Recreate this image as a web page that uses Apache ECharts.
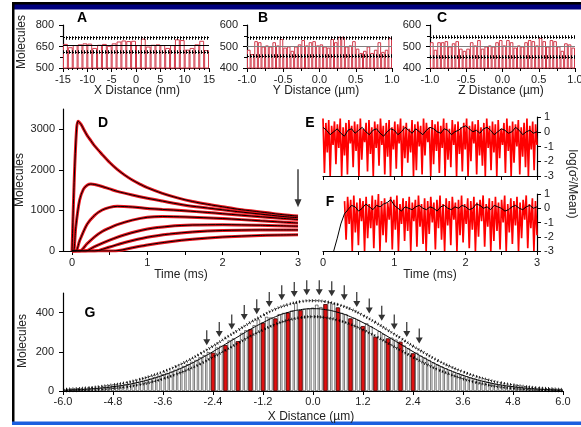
<!DOCTYPE html>
<html><head><meta charset="utf-8">
<script src="https://cdn.jsdelivr.net/npm/echarts@6/dist/echarts.min.js"></script>
<style>html,body{margin:0;padding:0;background:#fff}#c{width:581px;height:427px}</style>
</head><body><div id="c"></div>
<script>
// ---------------- DATA ----------------
// Panel A (X distance, nm) : 30 bins
const aBars = [668,645,660,665,672,670,640,662,668,655,672,685,692,688,690,660,705,650,662,665,660,640,660,700,695,628,640,665,690,625];
const aMean = 660, aUpper = 712, aLower = 610;
// Panel B (Y distance, µm) : 40 bins
const bBars = [485,465,525,520,500,505,500,520,505,535,495,500,480,500,510,530,505,520,525,505,510,500,495,535,520,545,545,500,505,525,490,470,480,500,470,485,520,475,485,540];
const bMean = 500, bUpper = 542, bLower = 455;
// Panel C (Z distance, µm) : 40 bins
const cBars = [520,485,520,520,525,500,515,525,490,480,490,520,505,530,490,500,505,500,520,530,505,530,520,495,505,500,520,530,525,505,540,525,500,530,525,500,480,515,510,495];
const cMean = 500, cUpper = 545, cLower = 452;

// Panel D : seven time courses (time ms, molecules)
const dTime1 = [0,0.03,0.06,0.08,0.12,0.16,0.2,0.25,0.3,0.4,0.5,0.6,0.7,0.8,0.9,1.0,1.2,1.4,1.6,1.8,2.0,2.2,2.4,2.6,2.8,3.0];
const dMol1  = [0,1800,3000,3200,3120,2980,2850,2720,2590,2380,2180,2010,1870,1750,1650,1560,1420,1310,1220,1150,1090,1030,985,940,895,860];
const dTime2 = [0,0.02,0.05,0.1,0.15,0.2,0.25,0.3,0.4,0.5,0.6,0.8,1.0,1.2,1.5,1.8,2.0,2.2,2.5,2.8,3.0];
const dMol2  = [0,0,600,1250,1520,1620,1650,1640,1590,1530,1470,1380,1300,1230,1130,1060,1015,970,910,850,820];
const dTime3 = [0,0.05,0.1,0.2,0.3,0.4,0.5,0.6,0.8,1.0,1.2,1.5,1.8,2.0,2.5,3.0];
const dMol3  = [0,0,250,660,880,1010,1075,1100,1085,1050,1025,990,950,920,845,775];
const dTime4 = [0,0.1,0.2,0.3,0.4,0.5,0.6,0.8,1.0,1.2,1.5,2.0,2.5,3.0];
const dMol4  = [0,0,180,350,480,570,650,760,830,850,840,800,745,690];
const dTime5 = [0,0.18,0.3,0.5,0.7,1.0,1.3,1.6,2.0,2.5,3.0];
const dMol5  = [0,0,110,270,400,540,610,640,650,635,610];
const dTime6 = [0,0.3,0.5,0.7,1.0,1.3,1.6,2.0,2.5,3.0];
const dMol6  = [0,0,100,210,340,420,470,505,520,520];
const dTime7 = [0,0.55,0.8,1.0,1.3,1.6,2.0,2.5,3.0];
const dMol7  = [0,0,80,150,230,290,345,385,400];
const dArrowT = 3, dArrowTip = 1080;
const dXLabels = [0,1,2,3];
const dXTicks = [0,0.5,1,1.5,2,2.5,3];
const dYLabels = [0,1000,2000,3000];

// Panel E : log(variance/mean), red raw, black smoothed (0..3 ms)
const eRed = [
0.9,-2.8,0.6,-1.4,0.8,-3,0.4,-0.9,0.7,-2.2,
0.5,-1.1,0.9,-3,0.3,-1.6,0.6,-2.9,0.8,-0.8,
0.4,-2.4,0.7,-1.3,0.5,-3,0.9,-1.9,0.2,-0.7,
0.6,-2.7,0.8,-1.5,0.3,-3,0.7,-1.1,0.5,-2.3,
0.9,-0.9,0.4,-2.9,0.6,-1.7,0.8,-3,0.3,-1.2,
0.7,-2.5,0.5,-0.8,0.9,-3,0.4,-1.8,0.6,-2.1,
0.2,-1.4,0.8,-3,0.5,-2.6,0.7,-1,0.4,-2.9,
0.9,-1.6,0.6,-0.7,0.3,-3,0.8,-2.2,0.5,-1.3,
0.7,-2.8,0.4,-1.1,0.9,-3,0.6,-1.9,0.2,-2.4,
0.8,-0.9,0.5,-3,0.7,-1.5,0.3,-2.7,0.6,-1.2,
0.9,-3,0.4,-2,0.7,-0.8,0.5,-2.9,0.8,-1.6,
0.3,-2.3,0.6,-3,0.9,-1.1,0.4,-2.6,0.7,-1.4,
0.5,-3,0.8,-1.8,0.2,-0.9,0.6,-2.8,0.9,-1.3,
0.4,-3,0.7,-2.1,0.5,-1,0.8,-2.9,0.3,-1.7,
0.6,-2.4,0.9,-3,0.4,-1.2,0.7,-2.6,0.5,-0.9];
const eBlack = [
0.3,0.1,-0.2,0,0.2,-0.1,-0.3,0.1,0.2,-0.1,0.1,0.3,0,-0.2,0.1,0.2,-0.1,-0.3,0,0.2,
0.1,-0.2,0,0.3,0.1,-0.1,0.2,0,-0.2,0.1,0.3,0.2,0,-0.1,0.2,0.1,-0.2,0,0.1,0.3,
0.4,0.2,0,0.1,-0.1,0.2,0.3,0.1,-0.2,0,0.2,0.1,-0.1,0,0.3,0.1,-0.2,0,0.1,-0.1,0];
// Panel F
const fRed = [null,null,null,null,null,null,null,null,null,null,null,null,null,null,
0.5,-2.2,0.8,-1.1,0.6,-3,0.9,-1.7,0.4,-2.6,
0.7,-0.9,0.5,-3,0.8,-2.1,0.3,-1.4,0.9,-2.8,
0.6,-1.2,1.0,-3,0.5,-1.9,0.7,-2.4,0.4,-0.8,
0.8,-2.9,0.6,-1.5,0.9,-3,0.3,-1.1,0.7,-2.3,
0.5,-1.6,0.8,-3,0.4,-0.9,0.6,-2.7,0.9,-1.3,
0.3,-2.5,0.7,-3,0.5,-1.8,0.8,-1,0.4,-2.9,
0.6,-1.4,0.9,-2.2,0.3,-3,0.7,-1.2,0.5,-2.6,
0.8,-0.8,0.4,-3,0.6,-1.9,0.9,-2.4,0.3,-1.1,
0.7,-2.8,0.5,-1.5,0.8,-3,0.4,-2,0.6,-0.9,
0.9,-2.7,0.3,-1.3,0.7,-3,0.5,-2.3,0.8,-1.6,
0.4,-2.9,0.6,-1,0.9,-3,0.3,-1.7,0.7,-2.5,
0.5,-1.2,0.8,-3,0.4,-2.1,0.6,-0.8,0.9,-2.8,
0.3,-1.4,0.7,-3,0.5,-1.9];
const fBlack = [null,null,null,-3,-2.1,-1.1,-0.4,
-0.1,0.2,0.1,-0.2,0,0.3,0.1,-0.1,0.2,0.1,
0.3,0.4,0.6,0.2,0,-0.2,0.1,0,-0.1,0.1,
0.2,0,-0.1,0.1,0,-0.2,0.1,0.2,0,-0.1,
0.1,0,0.2,0.1,-0.1,0,0.3,0.2,0,0.1,
-0.1,0.2,0.1,0,-0.2,-0.1,0.1,0.2,0,-0.1,
0.1,0.2,0,0.1];

// Panel G : X distance histogram, bins of 0.1 µm centred -5.9 .. 5.9
const gBars = [
5,6,7,8,9,11,12,14,16,18, 20,23,27,29,33,36,42,46,51,57,
63,70,78,86,92,99,108,118,127,137, 149,158,172,183,198,195,222,230,234,258,
268,254,296,310,315,335,365,348,378,375, 370,392,398,400,410,448,412,418,420,
425,
440,428,443,452,445,426,398,392,370,372, 362,331,345,330,276,305,290,268,272,262,
251,232,218,192,195,180,170,158,146,134, 125,116,106,97,90,82,75,68,62,56,
50,45,40,36,32,29,26,23,20,18, 15,13,12,10,9,8,7,6,5];
const gRedX = [-2.4,-2.1,-1.8,-1.5,-1.2,-0.9,-0.6,-0.3,0.3,0.6,0.9,1.2,1.5,1.8,2.1,2.4];
// fitted curve and bounds, every 0.3 µm from -6 to 6
const gFit = [4,6.5,10,15,22,31,44,60,80,104,132,165,201,239,277,315,349,379,401,415,420,415,401,379,349,315,277,239,201,165,132,104,80,60,44,31,22,15,10,6.5,4];
const gUpper = [8,11.6,16.3,22.7,31.4,42,57,75.5,98,124,155,191,229,270,310,350,386,418,441,456,461,456,441,418,386,350,310,270,229,191,155,124,98,75.5,57,42,31.4,22.7,16.3,11.6,8];
const gLower = [0,1.4,3.7,7.3,12.6,20,31,44.5,62,84,109,139,173,208,244,280,312,340,361,374,379,374,361,340,312,280,244,208,173,139,109,84,62,44.5,31,20,12.6,7.3,3.7,1.4,0];
const gArrowX = [-2.55,-2.25,-1.95,-1.65,-1.35,-1.05,-0.75,-0.45,-0.15,0.15,0.45,0.75,1.05,1.35,1.65,1.95,2.25,2.55];
const gArrowTip = [234,276,314,362,392,429,463,480,489,489,483,463,429,396,358,314,276,242];
const gXLabels = [-6,-4.8,-3.6,-2.4,-1.2,0,1.2,2.4,3.6,4.8,6];
const gYLabels = [0,200,400];

// ---------------- CHART ----------------
const FONT = 'Liberation Sans, Arial, sans-serif';
const chart = echarts.init(document.getElementById('c'), null, {renderer:'canvas'});
const plain = v => String(v);

function axis(base, extra) {
  const o = {
    axisLine:{show:true, onZero:false, lineStyle:{color:'#000', width:1.2}},
    axisTick:{show:true, length:4, lineStyle:{color:'#000', width:1}},
    axisLabel:{color:'#222', fontSize:11, fontFamily:FONT, margin:6, formatter:plain},
    splitLine:{show:false}
  };
  Object.assign(o, base);
  if (extra) for (const k in extra) o[k] = Object.assign({}, o[k] || {}, extra[k]);
  return o;
}
const cross = v => [
  {yAxis:v, lineStyle:{color:'#000', width:1, type:[2,1]}},
  {yAxis:v, lineStyle:{color:'#000', width:3.5, type:[1,2]}}
];
function histMark(mean, up, lo, meanColor) {
  return {silent:true, symbol:['none','none'], label:{show:false}, animation:false,
    data:[{yAxis:mean, lineStyle:{color:meanColor, width:1, type:'solid'}}, ...cross(up), ...cross(lo)]};
}
const barStyleABC = {color:'#fff', borderColor:'#d23a4a', borderWidth:1};
const idx = arr => arr.map((_, i) => i);
const pairs = (xs, ys) => xs.map((x, i) => [x, ys[i]]);
const stepX = (arr, total) => arr.map((v, i) => [i * total / (arr.length - 1), v]);

const gridBase = {containLabel:false, outerBoundsMode:'none'};
const grids = [
  {left:63, top:25, width:146, height:43},
  {left:247, top:25, width:145, height:43},
  {left:430, top:25, width:145, height:43},
  {left:63, top:109, width:235, height:142},
  {left:323, top:117, width:214, height:59},
  {left:323, top:194, width:214, height:57},
  {left:63, top:293, width:500, height:98}
].map(g => Object.assign({}, gridBase, g));

const f1 = v => v.toFixed(1);
const xAxes = [
  {type:'category', gridIndex:0, show:false, data:idx(aBars)},
  axis({type:'value', gridIndex:0, position:'bottom', min:-15, max:15, interval:5, minorTick:{show:true, splitNumber:5, length:2}}),
  {type:'category', gridIndex:1, show:false, data:idx(bBars)},
  axis({type:'value', gridIndex:1, position:'bottom', min:-1, max:1, interval:0.5, minorTick:{show:true, splitNumber:2, length:3}}, {axisLabel:{formatter:f1}}),
  {type:'category', gridIndex:2, show:false, data:idx(cBars)},
  axis({type:'value', gridIndex:2, position:'bottom', min:-1, max:1, interval:0.5, minorTick:{show:true, splitNumber:2, length:3}}, {axisLabel:{formatter:f1}}),
  axis({type:'value', gridIndex:3, position:'bottom', min:-0.12, max:3}, {axisLabel:{customValues:dXLabels}, axisTick:{customValues:dXTicks}}),
  axis({type:'value', gridIndex:4, position:'bottom', min:0, max:3, interval:0.5}, {axisLabel:{show:false}}),
  axis({type:'value', gridIndex:5, position:'bottom', min:0, max:3, interval:0.5}, {axisLabel:{formatter:v => (v % 1 === 0 ? String(v) : '')}}),
  axis({type:'value', gridIndex:6, position:'bottom', min:-6, max:6}, {axisLabel:{customValues:gXLabels, formatter:f1, margin:5}, axisTick:{customValues:gXLabels}})
];
const yAxes = [
  axis({type:'value', gridIndex:0, min:500, max:800, interval:150, minorTick:{show:true, splitNumber:2, length:3}}, {axisLabel:{margin:9}}),
  axis({type:'value', gridIndex:1, min:400, max:600, interval:100, minorTick:{show:true, splitNumber:2, length:3}}, {axisLabel:{margin:9}}),
  axis({type:'value', gridIndex:2, min:400, max:600, interval:100, minorTick:{show:true, splitNumber:2, length:3}}, {axisLabel:{margin:9}}),
  axis({type:'value', gridIndex:3, min:0, max:3500}, {axisLabel:{customValues:dYLabels, margin:8}, axisTick:{customValues:dYLabels}}),
  axis({type:'value', gridIndex:4, position:'right', min:-3, max:1, interval:1}, {axisLabel:{margin:7}}),
  axis({type:'value', gridIndex:5, position:'right', min:-3, max:1, interval:1}, {axisLabel:{margin:7}}),
  axis({type:'value', gridIndex:6, min:0, max:500}, {axisLabel:{customValues:gYLabels, margin:9}, axisTick:{customValues:gYLabels}})
];

const series = [];
// A, B, C
series.push({type:'bar', xAxisIndex:0, yAxisIndex:0, data:aBars, barCategoryGap:'0%', itemStyle:barStyleABC, markLine:histMark(aMean, aUpper, aLower, '#000')});
series.push({type:'bar', xAxisIndex:2, yAxisIndex:1, data:bBars, barCategoryGap:'0%', itemStyle:barStyleABC, markLine:histMark(bMean, bUpper, bLower, '#808080')});
series.push({type:'bar', xAxisIndex:4, yAxisIndex:2, data:cBars, barCategoryGap:'0%', itemStyle:barStyleABC, markLine:histMark(cMean, cUpper, cLower, '#808080')});

// D
const dSets = [[dTime1,dMol1],[dTime2,dMol2],[dTime3,dMol3],[dTime4,dMol4],[dTime5,dMol5],[dTime6,dMol6],[dTime7,dMol7]];
dSets.forEach(([t, m]) => series.push({type:'line', xAxisIndex:6, yAxisIndex:3, data:pairs(t, m), showSymbol:false, smooth:0.3, lineStyle:{color:'#e8141c', width:3}, z:2}));
dSets.forEach(([t, m]) => series.push({type:'line', xAxisIndex:6, yAxisIndex:3, data:pairs(t, m), showSymbol:false, smooth:0.3, lineStyle:{color:'#000', width:1}, z:3}));
series.push({type:'scatter', xAxisIndex:6, yAxisIndex:3, data:[[dArrowT, dArrowTip]], clip:false, z:5,
  symbol:'path://M4.3,0 H5.7 V30 H8.5 L5,38 L1.5,30 H4.3 Z', symbolSize:[7,38], symbolOffset:[0,'-50%'], itemStyle:{color:'#000'}});

// E, F
series.push({type:'line', xAxisIndex:7, yAxisIndex:4, data:stepX(eRed, 3), showSymbol:false, lineStyle:{color:'#ff0000', width:1.7}, z:2});
series.push({type:'line', xAxisIndex:7, yAxisIndex:4, data:stepX(eBlack, 3), showSymbol:false, lineStyle:{color:'#000', width:1}, z:3});
series.push({type:'line', xAxisIndex:8, yAxisIndex:5, data:stepX(fRed, 3), showSymbol:false, connectNulls:false, lineStyle:{color:'#ff0000', width:1.7}, z:2});
series.push({type:'line', xAxisIndex:8, yAxisIndex:5, data:stepX(fBlack, 3), showSymbol:false, connectNulls:false, lineStyle:{color:'#000', width:1}, z:3});

// G
const gBarData = gBars.map((v, i) => [Math.round((-5.9 + i * 0.1) * 10) / 10, v]);
const gRedData = gBarData.filter(d => gRedX.includes(d[0]));
series.push({type:'bar', xAxisIndex:9, yAxisIndex:6, data:gBarData, barWidth:3.3, barGap:'-100%', z:2,
  itemStyle:{color:'#fff', borderColor:'#222', borderWidth:0.6}});
series.push({type:'bar', xAxisIndex:9, yAxisIndex:6, data:gRedData, barWidth:4.2, barGap:'-100%', z:3,
  itemStyle:{color:'#e01010', borderColor:'#400', borderWidth:0.7}});
const gCurve = arr => arr.map((v, i) => [Math.round((-6 + i * 0.3) * 10) / 10, v]);
series.push({type:'line', xAxisIndex:9, yAxisIndex:6, data:gCurve(gFit), smooth:true, showSymbol:false, lineStyle:{color:'#000', width:1}, z:4});
[gUpper, gLower].forEach(arr => {
  series.push({type:'line', xAxisIndex:9, yAxisIndex:6, data:gCurve(arr), smooth:true, showSymbol:false, lineStyle:{color:'#000', width:0.8, type:[2,1.5]}, z:4});
  series.push({type:'line', xAxisIndex:9, yAxisIndex:6, data:gCurve(arr), smooth:true, showSymbol:false, lineStyle:{color:'#000', width:3, type:[0.8,2.4]}, z:4});
});
series.push({type:'scatter', xAxisIndex:9, yAxisIndex:6, data:pairs(gArrowX, gArrowTip), clip:false, z:5,
  symbol:'path://M4.3,0 H5.7 V9 H9 L5,15 L1,9 H4.3 Z', symbolSize:[7,15], symbolOffset:[0,'-50%'], itemStyle:{color:'#000'}});

// graphic: frame, panel letters, axis titles
const T = (text, x, y, opts) => Object.assign({type:'text', x, y, silent:true,
  style:Object.assign({text, fill:'#222', fontSize:12, fontFamily:FONT, align:'center', verticalAlign:'middle'}, (opts && opts.style) || {})},
  opts && opts.rotation !== undefined ? {rotation:opts.rotation} : {});
const L = (text, x, y) => T(text, x, y, {style:{fill:'#000', fontSize:14, fontWeight:'bold'}});
const graphic = [
  {type:'rect', shape:{x:12, y:2, width:569, height:3}, style:{fill:'#000'}, silent:true},
  {type:'rect', shape:{x:12, y:4.5, width:569, height:5}, style:{fill:'#00007e'}, silent:true},
  {type:'rect', shape:{x:12, y:2, width:2.5, height:422}, style:{fill:'#000'}, silent:true},
  {type:'rect', shape:{x:12, y:421.5, width:569, height:3.5}, style:{fill:'#1a5fe0'}, silent:true},
  L('A', 82, 18), L('B', 263, 18), L('C', 442, 18), L('D', 103, 123), L('E', 310, 123), L('F', 330, 202), L('G', 90, 313),
  T('Molecules', 22, 42, {rotation:Math.PI/2}),
  T('X Distance (nm)', 137, 91),
  T('Y Distance (µm)', 316, 91),
  T('Z Distance (µm)', 501, 91),
  T('Molecules', 20, 180, {rotation:Math.PI/2}),
  T('Time (ms)', 181, 275),
  T('Time (ms)', 430, 275),
  T('log(σ²/Mean)', 572, 184, {rotation:-Math.PI/2}),
  T('Molecules', 23, 341, {rotation:Math.PI/2}),
  T('X Distance (µm)', 311, 417)
];

chart.setOption({
  animation:false,
  backgroundColor:'#fff',
  grid:grids,
  xAxis:xAxes,
  yAxis:yAxes,
  series:series,
  graphic:graphic
});
</script>
</body></html>
